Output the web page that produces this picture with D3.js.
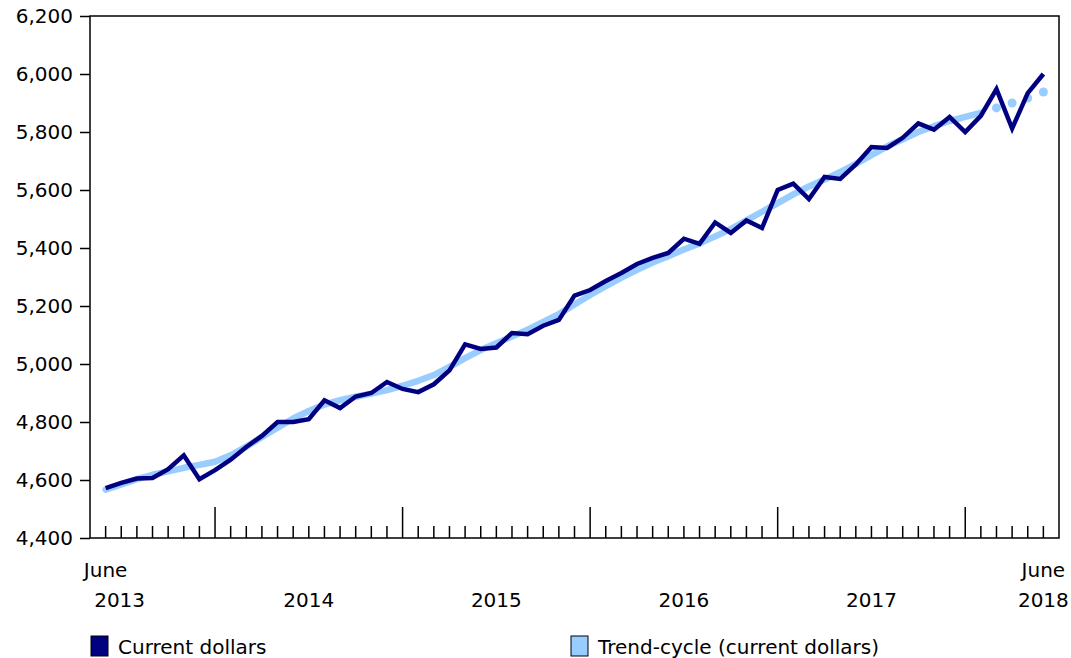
<!DOCTYPE html>
<html lang="en">
<head>
    <meta charset="UTF-8">
    <title>Current dollars and trend-cycle</title>
    <script src="https://d3js.org/d3.v7.min.js"></script>
    <style>
        body { margin: 0; background: #fff; }
        text { font-family: "DejaVu Sans", Verdana, sans-serif; font-size: 20px; fill: #000; }
    </style>
</head>
<body>
    <svg width="1071" height="658"></svg>
    <script>
        const width = 1071, height = 658;
        const svg = d3.select("svg");

        // June 2013 .. June 2018, monthly
        const months = d3.timeMonth.range(new Date(2013, 5, 1), new Date(2018, 6, 1));

        const currentDollars = [
            4572, 4590, 4605, 4607, 4637, 4685, 4603, 4634, 4670, 4714,
            4752, 4800, 4800, 4810, 4875, 4848, 4888, 4900, 4938, 4914,
            4903, 4930, 4978, 5068, 5052, 5057, 5107, 5103, 5132, 5152,
            5236, 5255, 5286, 5314, 5345, 5366, 5383, 5432, 5414, 5488,
            5452, 5495, 5469, 5600, 5622, 5569, 5645, 5638, 5688, 5748,
            5745, 5780, 5830, 5808, 5852, 5800, 5856, 5948, 5812, 5934,
            6000
        ];
        const trendCycle = [
            4567, 4585, 4603, 4618, 4630, 4642, 4652, 4663, 4685, 4715,
            4748, 4780, 4812, 4838, 4860, 4875, 4887, 4898, 4910, 4925,
            4942, 4962, 4990, 5020, 5048, 5072, 5095, 5118, 5145, 5172,
            5205, 5238, 5268, 5298, 5325, 5350, 5372, 5395, 5416, 5440,
            5465, 5495, 5525, 5555, 5585, 5612, 5636, 5662, 5690, 5720,
            5750, 5775, 5800, 5820, 5838, 5852, 5866, 5883, 5900, 5917,
            5938
        ];
        // last trend points are shown as dots only
        const firstDotted = 57;

        const yTicks = [4400, 4600, 4800, 5000, 5200, 5400, 5600, 5800, 6000, 6200];
        const yearLabels = ["2014", "2015", "2016", "2017"];
        const seriesNames = ["Current dollars", "Trend-cycle (current dollars)"];
        const colors = ["#000080", "#99ccff"];

        const plotL = 90, plotR = 1059, plotT = 16, plotB = 538;

        const x = d3.scaleLinear().domain([-1, months.length]).range([plotL, plotR]);
        const y = d3.scaleLinear().domain([4400, 6200]).range([plotB, plotT]);

        // frame
        svg.append("rect")
            .attr("x", plotL).attr("y", plotT)
            .attr("width", plotR - plotL).attr("height", plotB - plotT)
            .attr("fill", "none").attr("stroke", "#000").attr("stroke-width", 1.5);

        // y axis
        const yAxis = svg.append("g")
            .attr("transform", `translate(${plotL},0)`)
            .call(d3.axisLeft(y).tickValues(yTicks).tickSize(10).tickPadding(7).tickFormat(d3.format(",")));
        yAxis.select(".domain").remove();
        yAxis.selectAll("line").attr("stroke", "#000").attr("stroke-width", 1.5);
        yAxis.selectAll("text").style("font-size", "20px").style("font-family", "DejaVu Sans");

        // month ticks along the bottom, taller at January
        svg.append("g")
            .selectAll("line")
            .data(months)
            .enter().append("line")
            .attr("x1", (d, i) => x(i)).attr("x2", (d, i) => x(i))
            .attr("y1", plotB)
            .attr("y2", d => d.getMonth() === 0 ? plotB - 31 : plotB - 12)
            .attr("stroke", "#000").attr("stroke-width", 1.5);

        // x labels
        const lastI = months.length - 1;
        svg.append("text").attr("x", x(0)).attr("y", 577).attr("text-anchor", "middle").text("June");
        svg.append("text").attr("x", x(0) + 14).attr("y", 607).attr("text-anchor", "middle").text("2013");
        svg.append("text").attr("x", x(lastI)).attr("y", 577).attr("text-anchor", "middle").text("June");
        svg.append("text").attr("x", x(lastI)).attr("y", 607).attr("text-anchor", "middle").text("2018");
        yearLabels.forEach(lbl => {
            const jan = months.findIndex(m => m.getFullYear() === +lbl && m.getMonth() === 0);
            svg.append("text")
                .attr("x", x(jan + 6))
                .attr("y", 607)
                .attr("text-anchor", "middle")
                .text(lbl);
        });

        // trend-cycle line
        const line = d3.line().x(d => x(d.i)).y(d => y(d.v));
        const trendPts = trendCycle.map((v, i) => ({ i, v }));
        svg.append("path")
            .datum(trendPts.slice(0, firstDotted))
            .attr("d", line)
            .attr("fill", "none")
            .attr("stroke", colors[1])
            .attr("stroke-width", 6.5)
            .attr("stroke-linejoin", "round")
            .attr("stroke-linecap", "round");
        svg.append("g")
            .selectAll("circle")
            .data(trendPts.slice(firstDotted))
            .enter().append("circle")
            .attr("cx", d => x(d.i))
            .attr("cy", d => y(d.v))
            .attr("r", 4.5)
            .attr("fill", colors[1]);

        // current dollars line
        svg.append("path")
            .datum(currentDollars.map((v, i) => ({ i, v })))
            .attr("d", line)
            .attr("fill", "none")
            .attr("stroke", colors[0])
            .attr("stroke-width", 4.5)
            .attr("stroke-linejoin", "miter");

        // legend
        const legendX = [91, 571];
        seriesNames.forEach((name, k) => {
            const g = svg.append("g").attr("transform", `translate(${legendX[k]},636)`);
            g.append("rect")
                .attr("width", 17).attr("height", 20)
                .attr("fill", colors[k])
                .attr("stroke", "#000").attr("stroke-width", 1);
            g.append("text")
                .attr("x", 27).attr("y", 18)
                .text(name);
        });
    </script>
</body>
</html>
